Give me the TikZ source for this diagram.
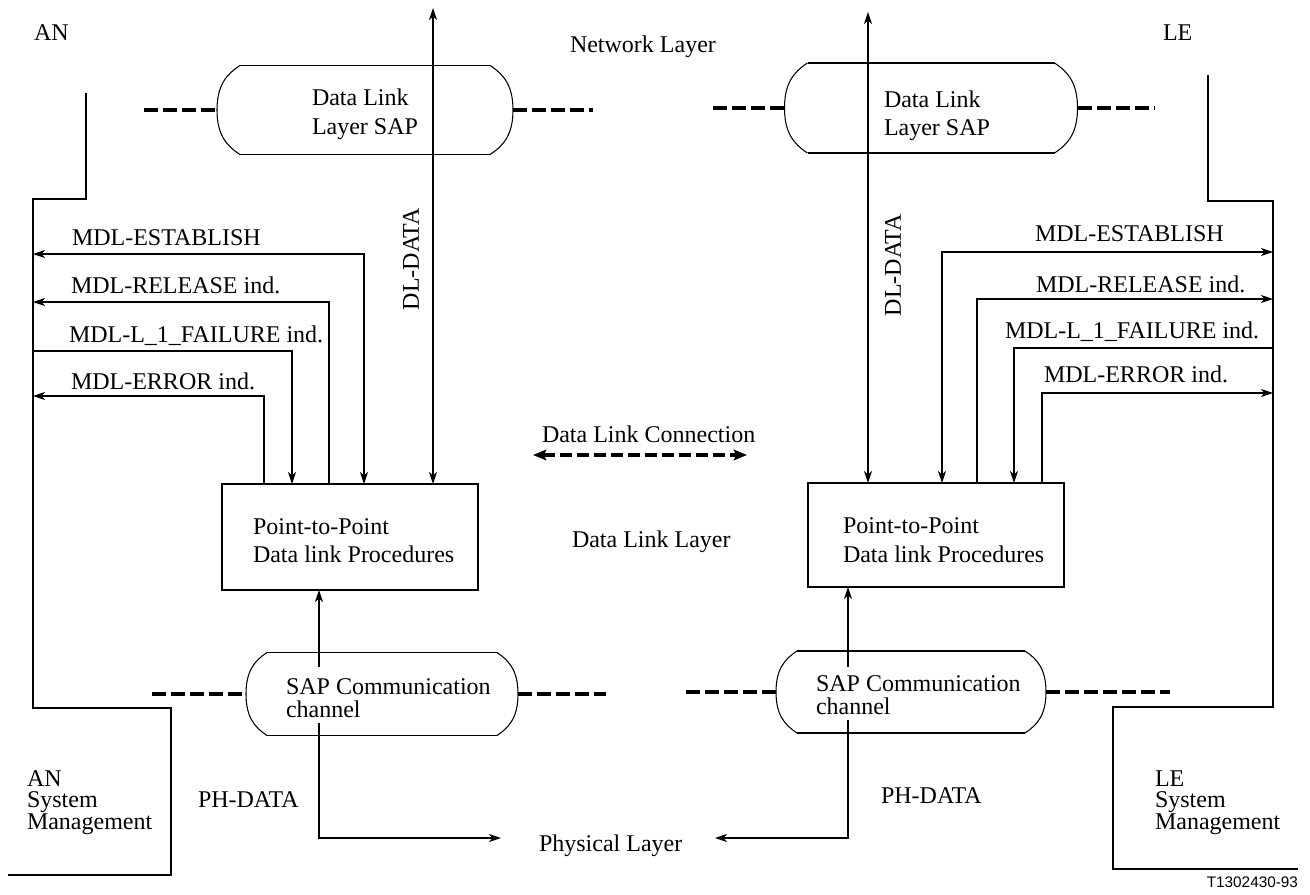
\documentclass[tikz,border=0pt]{standalone}
\usepackage{fontspec}
\setmainfont{Liberation Serif}
\newfontfamily\figsans{Liberation Sans}
\usetikzlibrary{arrows.meta,calc}
\newdimen\pxu \pxu=0.75pt

% outline of a service access point: straight top/bottom, bulging sides
% #1 node name, #2 bulge (px), #3 half height (px)
\newcommand{\capsuleshape}[3]{%
  \draw[capedge] (#1.north west) -- (#1.north east) (#1.south west) -- (#1.south east);
  \draw[capside] (#1.north west)
     .. controls +({-0.6*#2},{0.2*#3}) and +(0,{-0.55*#3}) .. ([xshift=-#2\pxu]#1.west)
     .. controls +(0,{0.55*#3}) and +({-0.6*#2},{-0.2*#3}) .. (#1.south west);
  \draw[capside] (#1.north east)
     .. controls +({0.6*#2},{0.2*#3}) and +(0,{-0.55*#3}) .. ([xshift=#2\pxu]#1.east)
     .. controls +(0,{0.55*#3}) and +({0.6*#2},{-0.2*#3}) .. (#1.south east);
}

\begin{document}
\begin{tikzpicture}[x=0.75pt,y=-0.75pt,
  every node/.style={font=\fontsize{18pt}{21pt}\selectfont, inner sep=0pt, outer sep=0pt},
  lbl/.style={anchor=base west},
  stack/.style={anchor=base west, align=left, font=\fontsize{18pt}{16.1pt}\selectfont},
  >={Stealth[length=9pt,width=6pt,inset=2.5pt]},
  wire/.style={line width=0.8pt},
  dlwire/.style={line width=1.3pt},
  procbox/.style={draw, line width=1pt, minimum width=256\pxu},
  capbox/.style={draw=none},
  capedge/.style={line width=1.3pt},
  capside/.style={line width=0.8pt},
  dashline/.style={line width=3pt, dash pattern=on 10.5pt off 3.75pt},
  connline/.style={line width=3pt, dash pattern=on 9pt off 3.75pt,
    {Stealth[length=10pt,width=8pt,inset=2pt]}-{Stealth[length=10pt,width=8pt,inset=2pt]}},
]
\useasboundingbox (0,0) rectangle (1310,895);

% ---------- procedure boxes ----------
\node[procbox, minimum height=106\pxu] (ppL) at (350,537) {};
\node[procbox, minimum height=104\pxu] (ppR) at (936,535) {};
\node[lbl] (ppLa) at (253,534) {Point-to-Point};
\node[lbl] (ppLb) at (253,562) {Data link Procedures};
\node[lbl] (ppRa) at (843,533) {Point-to-Point};
\node[lbl] (ppRb) at (843,562) {Data link Procedures};

% ---------- service access points ----------
\node[capbox, minimum width=250\pxu, minimum height=89\pxu] (sapTL) at (365,110) {};
\node[capbox, minimum width=247\pxu, minimum height=90\pxu] (sapTR) at (931,108) {};
\node[capbox, minimum width=230\pxu, minimum height=83\pxu] (sapBL) at (382,694) {};
\node[capbox, minimum width=228\pxu, minimum height=82\pxu] (sapBR) at (911,692) {};
\capsuleshape{sapTL}{23}{44.5}
\capsuleshape{sapTR}{23}{45}
\capsuleshape{sapBL}{21}{41.5}
\capsuleshape{sapBR}{21}{41}

\node[lbl] (sapTLa) at (312,106) {Data Link};
\node[lbl] (sapTLb) at (312,135) {Layer SAP};
\node[lbl] (sapTRa) at (884,108) {Data Link};
\node[lbl] (sapTRb) at (884,136) {Layer SAP};
\node[lbl] (sapBLa) at (286,694) {SAP Communication};
\node[lbl] (sapBLb) at (286,717) {channel};
\node[lbl] (sapBRa) at (816,691) {SAP Communication};
\node[lbl] (sapBRb) at (816,714) {channel};

% layer boundaries on both sides of the access points
\coordinate (bTL1) at (144,110);  \coordinate (bTL2) at (593,110);
\coordinate (bTR1) at (713,108);  \coordinate (bTR2) at (1155,108);
\coordinate (bBL1) at (152,694);  \coordinate (bBL2) at (606,694);
\coordinate (bBR1) at (686,692);  \coordinate (bBR2) at (1170,692);
\draw[dashline] (bTL1) -- ([xshift=-23\pxu]sapTL.west);
\draw[dashline] ([xshift=23\pxu]sapTL.east) -- (bTL2);
\draw[dashline] (bTR1) -- ([xshift=-23\pxu]sapTR.west);
\draw[dashline] ([xshift=23\pxu]sapTR.east) -- (bTR2);
\draw[dashline] (bBL1) -- ([xshift=-21\pxu]sapBL.west);
\draw[dashline] ([xshift=21\pxu]sapBL.east) -- (bBL2);
\draw[dashline] (bBR1) -- ([xshift=-21\pxu]sapBR.west);
\draw[dashline] ([xshift=21\pxu]sapBR.east) -- (bBR2);

% ---------- system management outlines ----------
\coordinate (mL) at (33,0);
\coordinate (mR) at (1273,0);
\draw[wire] (86,93) -- (86,199) -- (33,199) -- (33,708) -- (171,708) -- (171,875) -- (8,875);
\draw[wire] (1208,75) -- (1208,201) -- (1273,201) -- (1273,707) -- (1113,707) -- (1113,869) -- (1298,869);

% ---------- layer and side labels ----------
\node[lbl] (anTop) at (34,41) {AN};
\node[lbl] (leTop) at (1163,41) {LE};
\node[lbl] (netLayer) at (570,53) {Network Layer};
\node[lbl] (dlLayer) at (572,547) {Data Link Layer};
\node[lbl] (dlConn) at (542,442) {Data Link Connection};
\node[lbl] (phyLayer) at (539,851) {Physical Layer};
\node[stack] (anSys) at (27,829) {AN\\System\\Management};
\node[stack] (leSys) at (1155,829) {LE\\System\\Management};
\node[lbl] (phL) at (198,807) {PH-DATA};
\node[lbl] (phR) at (881,803) {PH-DATA};
\node[rotate=90] (dlL) at (411,259) {DL-DATA};
\node[rotate=90] (dlR) at (893,265) {DL-DATA};
\node[anchor=base east, font=\figsans\fontsize{11.5pt}{13pt}\selectfont] (figno) at (1298,887) {T1302430-93};

% ---------- management primitives, AN side ----------
\node[lbl] (mdlEL) at (72,245) {MDL-ESTABLISH};
\node[lbl] (mdlRL) at (71,293) {MDL-RELEASE ind.};
\node[lbl] (mdlFL) at (69,342) {MDL-L\_1\_FAILURE ind.};
\node[lbl] (mdlXL) at (71,389) {MDL-ERROR ind.};
\draw[wire,<->] (ppL.north -| 364,0) |- (mL |- 0,254);
\draw[wire,->] (ppL.north -| 329,0) |- (mL |- 0,302);
\draw[wire,->] (mL |- 0,351) -| (ppL.north -| 292,0);
\draw[wire,->] (ppL.north -| 264,0) |- (mL |- 0,396);

% ---------- management primitives, LE side ----------
\node[lbl] (mdlER) at (1035,241) {MDL-ESTABLISH};
\node[lbl] (mdlRR) at (1036,292) {MDL-RELEASE ind.};
\node[lbl] (mdlFR) at (1005,338) {MDL-L\_1\_FAILURE ind.};
\node[lbl] (mdlXR) at (1044,382) {MDL-ERROR ind.};
\draw[wire,<->] (ppR.north -| 942,0) |- (mR |- 0,252);
\draw[wire,->] (ppR.north -| 977,0) |- (mR |- 0,299);
\draw[wire,->] (mR |- 0,348) -| (ppR.north -| 1014,0);
\draw[wire,->] (ppR.north -| 1042,0) |- (mR |- 0,393);

% ---------- DL-DATA to the network layer ----------
\coordinate (nlL) at (433,8);
\coordinate (nlR) at (868,12);
\draw[dlwire,<->] (nlL) -- (ppL.north -| nlL);
\draw[dlwire,<->] (nlR) -- (ppR.north -| nlR);

% ---------- peer connection ----------
\coordinate (dcA) at (533,455);
\coordinate (dcB) at (747,455);
\draw[connline] (dcA) -- (dcB);

% ---------- PH-DATA to the physical layer ----------
\coordinate (phLin) at (319,667);
\coordinate (phLout) at (319,723);
\coordinate (phLend) at (501,838);
\coordinate (phRin) at (848,667);
\coordinate (phRout) at (848,720);
\coordinate (phRend) at (715,838);
\draw[wire,->] (phLin) -- (ppL.south -| phLin);
\draw[wire,->] (phLout) |- (phLend);
\draw[wire,->] (phRin) -- (ppR.south -| phRin);
\draw[wire,->] (phRout) |- (phRend);
\end{tikzpicture}
\end{document}
